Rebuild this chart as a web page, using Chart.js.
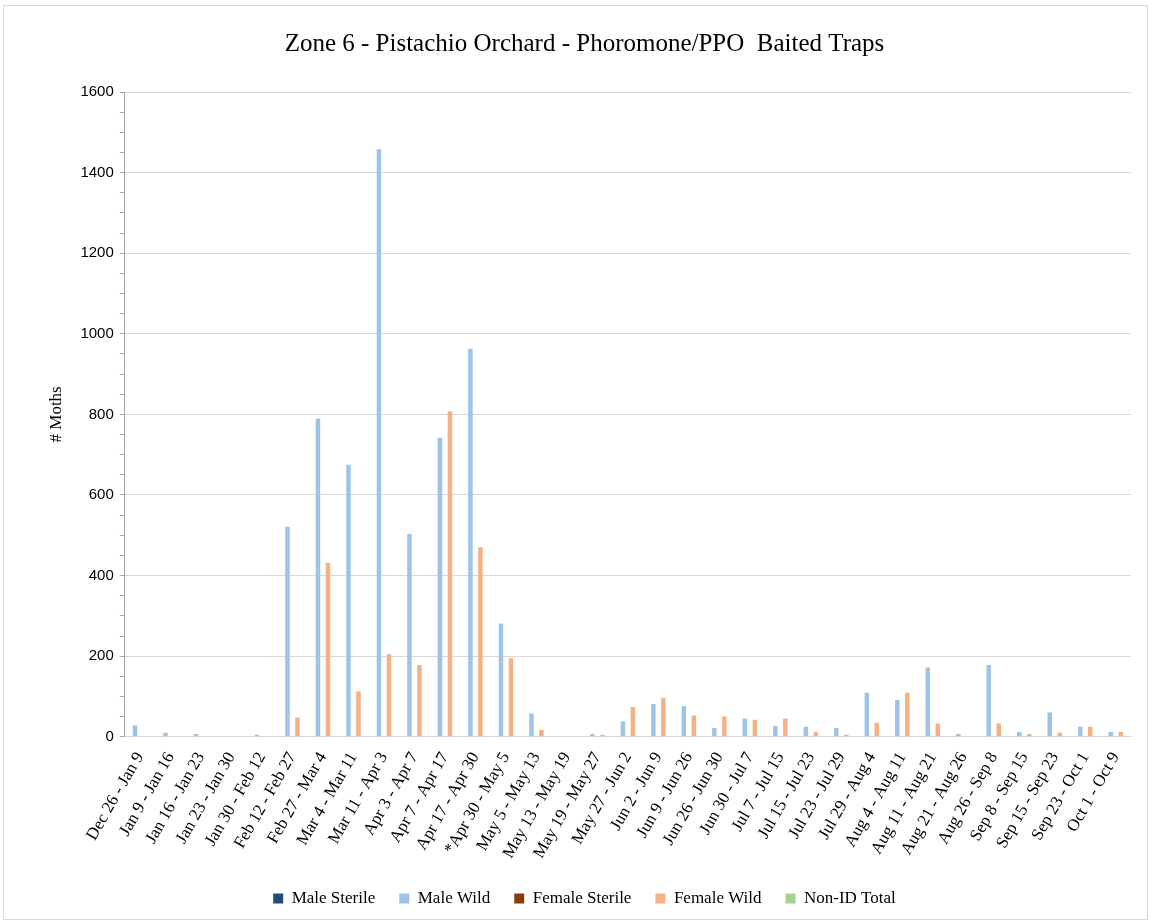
<!DOCTYPE html>
<html>
<head>
<meta charset="utf-8">
<script src="https://cdn.jsdelivr.net/npm/chart.js@4"></script>
<style>
  body { margin: 0; background: #fff; }
  #frame { position: absolute; left: 3px; top: 5px; width: 1143px; height: 913px; border: 1px solid #d9d9d9; }
  canvas { display: block; }
</style>
</head>
<body>
<div id="frame"><canvas id="myChart" width="1143" height="913"></canvas></div>
<script>
const weeks = ["Dec 26 - Jan 9", "Jan 9 - Jan 16", "Jan 16 - Jan 23", "Jan 23 - Jan 30", "Jan 30 - Feb 12",
  "Feb 12 - Feb 27", "Feb 27 - Mar 4", "Mar 4 - Mar 11", "Mar 11 - Apr 3", "Apr 3 - Apr 7", "Apr 7 - Apr 17",
  "Apr 17 - Apr 30", "*Apr 30 - May 5", "May 5 - May 13", "May 13 - May 19", "May 19 - May 27", "May 27 - Jun 2",
  "Jun 2 - Jun 9", "Jun 9 - Jun 26", "Jun 26 - Jun 30", "Jun 30 - Jul 7", "Jul 7 - Jul 15", "Jul 15 - Jul 23",
  "Jul 23 - Jul 29", "Jul 29 - Aug 4", "Aug 4 - Aug 11", "Aug 11 - Aug 21", "Aug 21 - Aug 26", "Aug 26 - Sep 8",
  "Sep 8 - Sep 15", "Sep 15 - Sep 23", "Sep 23 - Oct 1", "Oct 1 - Oct 9"]

const maleSterile = [0,0,0,0,0, 0,0,0,0,0, 0,0,0,0,0, 0,0,0,0,0, 0,0,0,0,0, 0,0,0,0,0, 0,0,0]
const maleWild = [28,10,7,0,5, 521,790,675,1458,503, 742,963,281,58,0, 7,38,81,76,22, 45,27,25,22,109, 91,172,7,178,12, 60,25,12]
const femaleSterile = [0,0,0,0,0, 0,0,0,0,0, 0,0,0,0,0, 0,0,0,0,0, 0,0,0,0,0, 0,0,0,0,0, 0,0,0]
const femaleWild = [0,0,0,0,0, 48,432,112,205,178, 808,470,195,17,0, 5,74,96,53,50, 42,45,12,5,35, 109,33,0,33,7, 10,25,12]
const nonIdTotal = [0,0,0,0,0, 0,0,0,0,0, 0,0,0,0,0, 0,0,0,0,0, 0,0,0,0,0, 0,0,0,0,0, 0,0,0]

const serif = "'Liberation Serif', 'Times New Roman', serif"

function series(label, data, color) {
  return { label: label, data: data, backgroundColor: color, borderWidth: 0,
           categoryPercentage: 0.82, barPercentage: 0.9 }
}

const ctx = document.getElementById('myChart')
new Chart(ctx, {
  type: 'bar',
  data: {
    labels: weeks,
    datasets: [
      series('Male Sterile', maleSterile, '#1f4e79'),
      series('Male Wild', maleWild, '#9dc3e6'),
      series('Female Sterile', femaleSterile, '#843c0c'),
      series('Female Wild', femaleWild, '#f4b183'),
      series('Non-ID Total', nonIdTotal, '#a9d18e')
    ]
  },
  options: {
    responsive: false,
    animation: false,
    layout: { padding: { left: 34, right: 16, top: 18, bottom: 2 } },
    plugins: {
      title: {
        display: true,
        text: 'Zone 6 - Pistachio Orchard - Phoromone/PPO  Baited Traps',
        color: '#000',
        font: { family: serif, size: 25, weight: 'normal' },
        padding: { top: 5, bottom: 33 }
      },
      legend: {
        position: 'bottom',
        labels: { color: '#000', font: { family: serif, size: 17 }, boxWidth: 10, boxHeight: 10, padding: 24 }
      },
      tooltip: { enabled: false }
    },
    scales: {
      x: {
        grid: { display: false },
        border: { color: '#d9d9d9', width: 1 },
        ticks: { color: '#000', font: { family: serif, size: 17 }, minRotation: 60, maxRotation: 60, autoSkip: false, padding: 4 }
      },
      y: {
        min: 0,
        max: 1600,
        border: { color: '#a6a6a6', width: 1 },
        grid: {
          color: c => c.tick && c.tick.value % 200 === 0 ? '#d9d9d9' : 'rgba(0,0,0,0)',
          tickColor: '#a6a6a6',
          tickLength: 5,
          lineWidth: 1
        },
        ticks: {
          stepSize: 50,
          autoSkip: false,
          color: '#000',
          font: { family: "'Liberation Sans', Arial, sans-serif", size: 15 },
          padding: 6,
          callback: v => v % 200 === 0 ? v : ''
        },
        title: { display: true, text: '# Moths', color: '#000', font: { family: serif, size: 17 }, padding: 8 }
      }
    }
  }
})
</script>
</body>
</html>
